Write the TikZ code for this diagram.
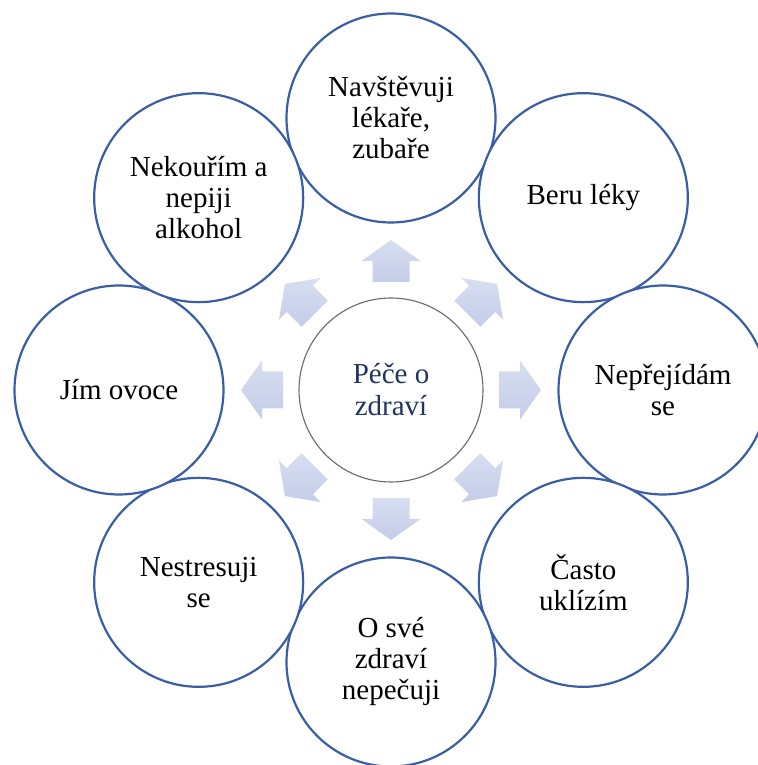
\documentclass[tikz,border=0pt]{standalone}
\usepackage{fontspec}
\setmainfont{Liberation Serif}
\usetikzlibrary{calc}
\definecolor{ringblue}{RGB}{58,94,166}
\definecolor{centergray}{RGB}{105,105,105}
\definecolor{navytext}{RGB}{31,52,96}
\definecolor{arrowtop}{RGB}{216,222,241}
\definecolor{arrowbot}{RGB}{196,205,232}
\tikzset{
  outerbubble/.style={circle, draw=ringblue, line width=2.2pt, fill=white,
    minimum size=209pt, inner sep=0pt, align=center, text=black,
    font=\fontsize{29}{31}\selectfont},
  centerbubble/.style={circle, draw=centergray, line width=1.1pt, fill=white,
    minimum size=184pt, inner sep=0pt, align=center, text=navytext,
    font=\fontsize{29}{32}\selectfont},
  blockarrow/.style={top color=arrowtop, bottom color=arrowbot, draw=none}
}
\newcommand\blkarrow[1]{%
  \shade[blockarrow]
    ($(c)+(#1:108)+(#1-90:18.5)$) --
    ($(c)+(#1:129)+(#1-90:18.5)$) --
    ($(c)+(#1:129)+(#1-90:29.5)$) --
    ($(c)+(#1:150)$) --
    ($(c)+(#1:129)+(#1+90:29.5)$) --
    ($(c)+(#1:129)+(#1+90:18.5)$) --
    ($(c)+(#1:108)+(#1+90:18.5)$) -- cycle;}
\begin{document}
\begin{tikzpicture}[x=1pt,y=1pt]
\useasboundingbox (0,0) rectangle (757,765);
\coordinate (c) at (391,375);
\foreach \a in {0,45,...,315} {\blkarrow{\a}}
\node[centerbubble] (center) at (c) {Péče o\\zdraví};
\node[outerbubble] (n1) at ($(c)+(90:272)$) {Navštěvuji\\lékaře,\\zubaře};
\node[outerbubble] (n2) at ($(c)+(45:272)$) {Beru léky};
\node[outerbubble] (n3) at ($(c)+(0:272)$) {Nepřejídám\\se};
\node[outerbubble] (n4) at ($(c)+(-45:272)$) {Často\\uklízím};
\node[outerbubble] (n5) at ($(c)+(-90:272)$) {O své\\zdraví\\nepečuji};
\node[outerbubble] (n6) at ($(c)+(-135:272)$) {Nestresuji\\se};
\node[outerbubble] (n7) at ($(c)+(180:272)$) {Jím ovoce};
\node[outerbubble] (n8) at ($(c)+(135:272)$) {Nekouřím a\\nepiji\\alkohol};
\end{tikzpicture}
\end{document}
